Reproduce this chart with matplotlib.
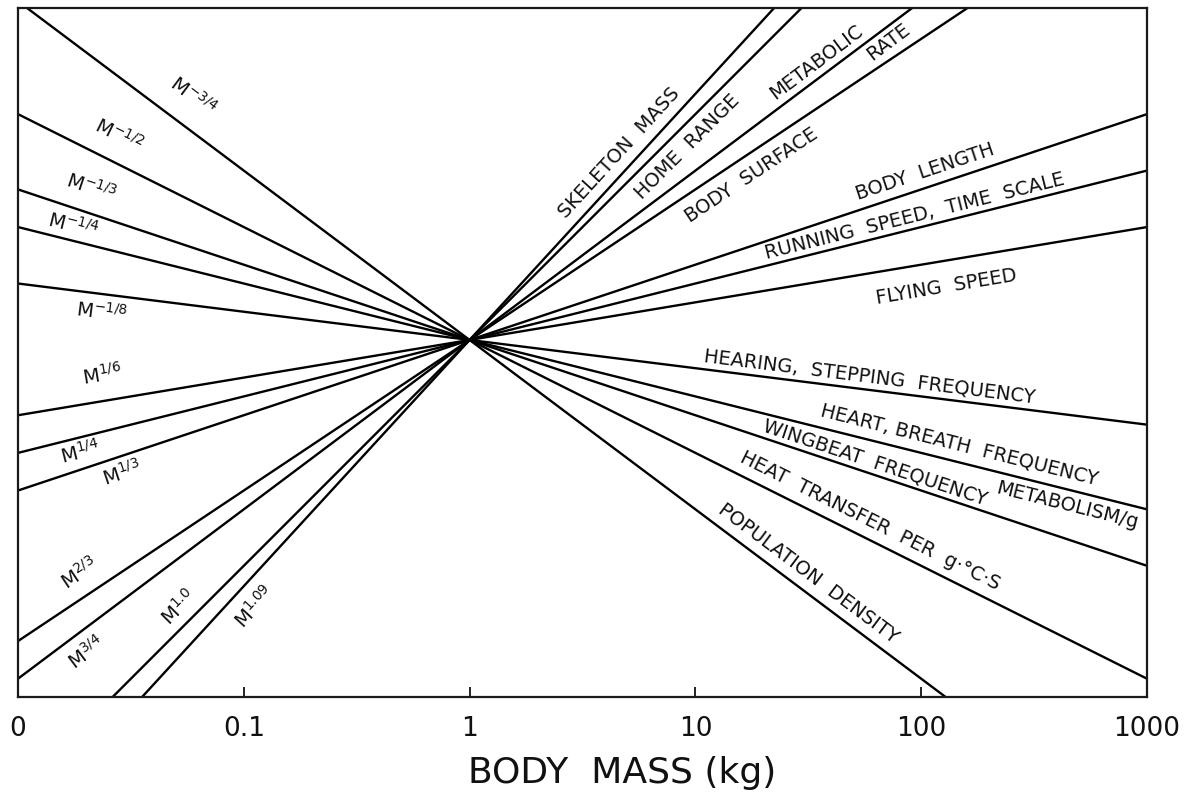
import numpy as np
import matplotlib
matplotlib.use("Agg")
import matplotlib.pyplot as plt

plt.rcParams['font.family'] = ['DejaVu Sans']
plt.rcParams['mathtext.default'] = 'regular'

# allometric exponents b in  y = M**b  (all lines pass through M = 1 kg)
exponents = [-3/4, -1/2, -1/3, -1/4, -1/8, 1/6, 1/4, 1/3, 2/3, 3/4, 1.0, 1.09]
exp_labels = ['M$^{-3/4}$', 'M$^{-1/2}$', 'M$^{-1/3}$', 'M$^{-1/4}$', 'M$^{-1/8}$',
              'M$^{1/6}$', 'M$^{1/4}$', 'M$^{1/3}$', 'M$^{2/3}$', 'M$^{3/4}$',
              'M$^{1.0}$', 'M$^{1.09}$']

# quantity names and the exponent they follow
quantities = ['SKELETON  MASS', 'HOME  RANGE', 'METABOLIC', 'RATE', 'BODY  SURFACE',
              'BODY  LENGTH', 'RUNNING  SPEED,  TIME  SCALE', 'FLYING  SPEED',
              'HEARING,  STEPPING  FREQUENCY', 'HEART, BREATH  FREQUENCY',
              'METABOLISM/g', 'WINGBEAT  FREQUENCY', 'HEAT  TRANSFER  PER  g·°C·S',
              'POPULATION  DENSITY']
quantity_exps = [1.09, 1.0, 3/4, 3/4, 2/3, 1/3, 1/4, 1/6, -1/8, -1/4, -1/4, -1/3, -1/2, -3/4]

mass_ticks = [0.01, 0.1, 1, 10, 100, 1000]
mass_ticklabels = ['0', '0.1', '1', '10', '100', '1000']

# label placement: (mass along the line, offset normal to the line in px)
exp_label_pos = [(0.050, 29), (0.0248, 26), (0.0195, 25), (0.0169, 15), (0.0239, -18),
                 (0.0246, 26), (0.0182, -15), (0.0273, -16), (0.0212, 22), (0.0178, -20),
                 (0.0581, 17), (0.0945, -22)]
quantity_pos = [(5.2, 16), (8.13, -18), (37.5, 14), (66, -13), (15.9, -19),
                (109, 16), (96, 12), (124, -26), (57.9, 13), (142, 17),
                (460, -16), (60, 12), (55, 17), (28.5, 16)]

dpi = 100
fig = plt.figure(figsize=(11.84, 7.95), dpi=dpi)
ax = fig.add_axes([18/1184, 1 - 697/795, 1129/1184, 689/795])
ax.set_xscale('log')
ax.set_yscale('log')
ax.set_xlim(0.01, 1000)
ax.set_ylim(10**-1.581, 10**1.470)

m = np.array([0.01, 1000.0])
for b in exponents:
    ax.plot(m, m**b, color='black', lw=1.7, solid_capstyle='butt')

# screen scale of one decade on each axis, for text rotation
p0 = ax.transData.transform((1, 1))
p1 = ax.transData.transform((10, 10))
sx, sy = p1[0] - p0[0], p1[1] - p0[1]


def put_label(txt, b, xm, off, size):
    ang = np.arctan2(b*sy, sx)
    k = 72.0/dpi
    ox, oy = -np.sin(ang)*off*k, np.cos(ang)*off*k
    ax.annotate(txt, xy=(xm, xm**b), xytext=(ox, oy), textcoords='offset points',
                rotation=np.degrees(ang), rotation_mode='anchor',
                ha='center', va='center', fontsize=size, color='#111111')


for txt, b, (xm, off) in zip(exp_labels, exponents, exp_label_pos):
    put_label(txt, b, xm, off, 14)
for txt, b, (xm, off) in zip(quantities, quantity_exps, quantity_pos):
    put_label(txt, b, xm, off, 14)

ax.xaxis.set_major_locator(matplotlib.ticker.FixedLocator(mass_ticks))
ax.xaxis.set_major_formatter(matplotlib.ticker.FixedFormatter(mass_ticklabels))
ax.xaxis.set_minor_locator(matplotlib.ticker.NullLocator())
ax.yaxis.set_major_locator(matplotlib.ticker.NullLocator())
ax.yaxis.set_minor_locator(matplotlib.ticker.NullLocator())
ax.tick_params(axis='x', direction='in', length=7, width=1.3, pad=14,
               labelsize=19, colors='#111111')

for s in ax.spines.values():
    s.set_linewidth(1.6)
    s.set_color('#1a1a1a')

ax.set_xlabel('BODY  MASS (kg)', fontsize=26, color='#111111')
ax.xaxis.set_label_coords(0.535, -0.085)

fig.savefig('out.png', dpi=dpi, facecolor='white')
